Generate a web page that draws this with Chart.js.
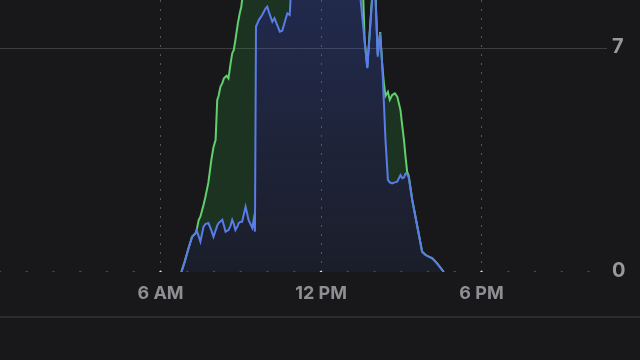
<!DOCTYPE html>
<html>
<head>
<meta charset="utf-8">
<script src="https://cdn.jsdelivr.net/npm/chart.js@4/dist/chart.umd.min.js"></script>
<style>
  html, body { margin: 0; padding: 0; background: #18181a; width: 640px; height: 360px; overflow: hidden; }
  #wrap { position: relative; width: 640px; height: 316px; }
  #sep { width: 640px; height: 0; border-top: 2px solid #2c2c2e; }
</style>
</head>
<body>
<div id="wrap"><canvas id="c"></canvas></div>
<div id="sep"></div>
<script>
// Time of day in hours
const times = [6.78,6.90,7.05,7.18,7.31,7.35,7.43,7.49,7.61,7.68,7.79,7.90,7.98,8.06,8.12,8.17,8.24,8.31,8.37,8.43,8.47,8.54,8.62,8.68,8.74,8.80,8.89,8.92,8.96,9.02,9.05,9.10,9.18,9.29,9.43,9.48,9.53,9.57,9.68,9.80,9.93,9.99,10.05,10.18,10.26,10.36,10.46,10.55,10.67,10.74,10.83,10.86,10.93,11.5,12.0,12.5,13.0,13.3,13.48,13.58,13.63,13.73,13.91,13.96,14.04,14.12,14.21,14.29,14.35,14.41,14.50,14.57,14.66,14.76,14.85,14.97,15.04,15.10,15.16,15.22,15.28,15.41,15.60,15.78,15.91,16.03,16.16,16.34,16.59];
// Blue series
const blueValues = [0,0.31,0.75,1.10,1.21,1.31,1.10,0.95,1.42,1.50,1.53,1.30,1.10,1.30,1.45,1.53,1.58,1.63,1.45,1.26,1.28,1.31,1.45,1.63,1.50,1.31,1.45,1.53,1.55,1.57,1.57,1.75,2.04,1.63,1.38,1.63,1.26,7.67,7.88,8.03,8.24,8.29,8.13,7.82,7.93,7.72,7.51,7.54,7.88,8.08,8.03,8.50,9.10,9.30,9.50,9.40,9.20,9.00,8.50,7.65,7.20,6.37,8.50,8.80,8.50,6.73,7.47,6.42,5.30,4.13,2.88,2.80,2.77,2.80,2.82,3.03,2.93,2.95,3.08,3.05,2.95,2.25,1.42,0.63,0.53,0.48,0.43,0.27,0];
// Green series
const greenValues = [0,0.31,0.75,1.10,1.21,1.31,1.63,1.73,2.10,2.35,2.80,3.50,3.90,4.13,5.38,5.50,5.79,5.90,6.05,6.10,6.13,6.05,6.52,6.83,6.94,7.25,7.77,7.90,8.08,8.29,8.50,9.10,9.40,9.60,9.70,9.75,9.80,9.82,9.85,9.90,9.95,9.95,10.0,10.0,10.0,10.0,10.0,10.1,10.1,10.1,10.1,10.1,10.1,10.2,10.2,10.1,10.0,9.80,9.30,8.50,7.25,6.40,8.60,8.90,8.60,6.80,7.50,6.45,5.90,5.50,5.63,5.38,5.53,5.58,5.48,5.06,4.54,4.13,3.60,3.13,3.00,2.25,1.42,0.63,0.53,0.48,0.43,0.27,0];
// Hourly baseline marks
const hours = [0,1,2,3,4,5,6,7,8,9,10,11,12,13,14,15,16,17,18,19,20,21,22];
// Axis ticks
const xTickValues = [6, 12, 18];
const xTickLabels = ['6 AM', '12 PM', '6 PM'];
const yTickValues = [0, 7];

const blueData = times.map((t, i) => ({ x: t, y: blueValues[i] }));
const greenData = times.map((t, i) => ({ x: t, y: greenValues[i] }));
const hourData = hours.map(h => ({ x: h, y: 0 }));

function blueFill(ctx) {
  const ch = ctx.chart;
  const area = ch.chartArea;
  if (!area) return 'rgba(60,90,200,0.2)';
  const g = ch.ctx.createLinearGradient(0, area.top, 0, area.bottom);
  g.addColorStop(0, 'rgba(60,90,210,0.28)');
  g.addColorStop(1, 'rgba(60,90,200,0.09)');
  return g;
}

new Chart(document.getElementById('c'), {
  type: 'line',
  data: {
    datasets: [
      {
        label: 'blue',
        data: blueData,
        borderColor: '#5a7ce8',
        borderWidth: 2,
        backgroundColor: blueFill,
        fill: 'origin',
        pointRadius: 0,
        tension: 0,
        order: 1
      },
      {
        label: 'green',
        data: greenData,
        borderColor: '#62cf6e',
        borderWidth: 2,
        backgroundColor: 'rgba(45,150,65,0.22)',
        fill: 0,
        pointRadius: 0,
        tension: 0,
        order: 2
      },
      {
        label: 'hours',
        data: hourData,
        showLine: false,
        pointRadius: 1.3,
        pointBorderWidth: 0,
        pointBackgroundColor: (c) => {
          const v = c.raw && c.raw.x;
          return xTickValues.includes(v) ? '#d8d8da' : '#4a4a4d';
        },
        fill: false,
        order: 0
      }
    ]
  },
  options: {
    responsive: true,
    maintainAspectRatio: false,
    animation: false,
    layout: { padding: 0, autoPadding: false },
    plugins: { legend: { display: false }, tooltip: { enabled: false } },
    scales: {
      x: {
        type: 'linear',
        min: 0,
        max: 22.69,
        afterBuildTicks: (s) => { s.ticks = xTickValues.map(v => ({ value: v })); },
        afterFit: (s) => { s.height = 44; s.paddingLeft = 0; s.paddingRight = 0; },
        ticks: {
          padding: 11,
          color: '#8e8e93',
          font: { family: 'Inter', size: 18, weight: '700' },
          maxRotation: 0,
          autoSkip: false,
          callback: (v) => xTickLabels[xTickValues.indexOf(v)]
        },
        grid: { color: '#56565b', lineWidth: 1, drawTicks: false },
        border: { display: false, dash: [2, 7] }
      },
      y: {
        position: 'right',
        min: 0,
        max: 8.5,
        afterBuildTicks: (s) => { s.ticks = yTickValues.map(v => ({ value: v })); },
        afterFit: (s) => { s.width = 33; s.paddingTop = 0; s.paddingBottom = 0; },
        ticks: {
          padding: 5,
          color: '#98989d',
          font: { family: 'Inter', size: 20, weight: '700' },
          labelOffset: -1,
          callback: (v) => String(v)
        },
        grid: {
          drawTicks: false,
          lineWidth: 1,
          color: (c) => (c.tick && c.tick.value === 7) ? '#3e3e41' : 'rgba(0,0,0,0)'
        },
        border: { display: false }
      }
    }
  }
});
</script>
</body>
</html>
